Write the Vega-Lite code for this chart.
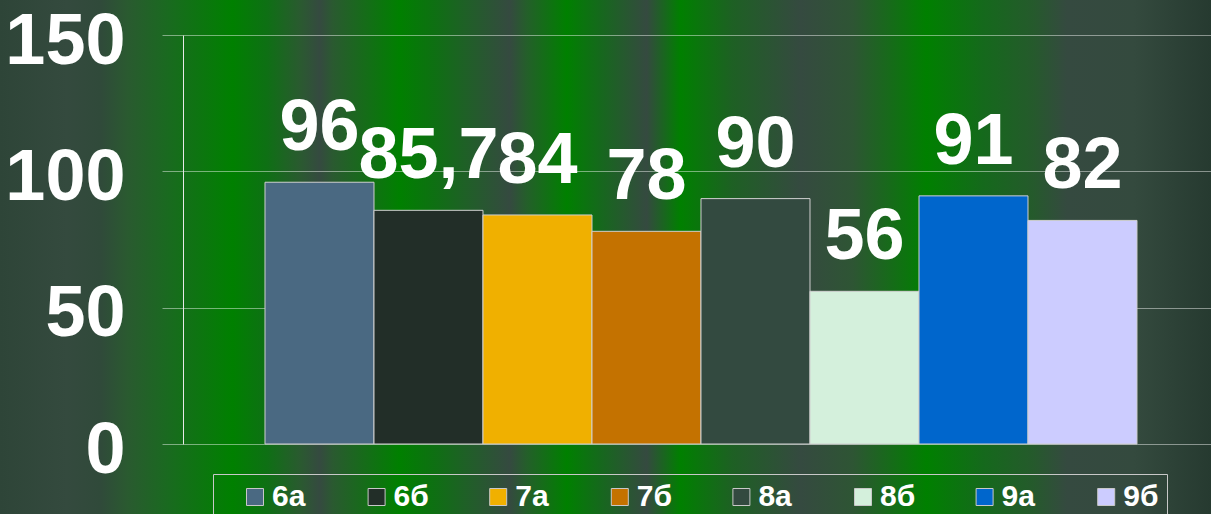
{
  "$schema": "https://vega.github.io/schema/vega-lite/v6.json",
  "width": 1211,
  "height": 514,
  "autosize": {"type": "none"},
  "padding": 0,
  "background": "#2f463a",
  "view": {
    "stroke": null,
    "fill": {
      "gradient": "linear",
      "x1": 0, "y1": 0, "x2": 1, "y2": 0,
      "stops": [
        {"offset": 0.0, "color": "#2e4538"},
        {"offset": 0.055, "color": "#344a3e"},
        {"offset": 0.083, "color": "#304a3a"},
        {"offset": 0.105, "color": "#2a5a30"},
        {"offset": 0.138, "color": "#1a6a20"},
        {"offset": 0.192, "color": "#008000"},
        {"offset": 0.22, "color": "#0e7014"},
        {"offset": 0.248, "color": "#2a5a30"},
        {"offset": 0.264, "color": "#354a40"},
        {"offset": 0.275, "color": "#2a5a30"},
        {"offset": 0.33, "color": "#008000"},
        {"offset": 0.358, "color": "#0e7012"},
        {"offset": 0.386, "color": "#205f28"},
        {"offset": 0.421, "color": "#354a40"},
        {"offset": 0.435, "color": "#245f2a"},
        {"offset": 0.468, "color": "#008000"},
        {"offset": 0.495, "color": "#15691c"},
        {"offset": 0.534, "color": "#354a40"},
        {"offset": 0.562, "color": "#008000"},
        {"offset": 0.605, "color": "#1e6024"},
        {"offset": 0.661, "color": "#354a40"},
        {"offset": 0.704, "color": "#2e5534"},
        {"offset": 0.765, "color": "#008000"},
        {"offset": 0.812, "color": "#15691c"},
        {"offset": 0.853, "color": "#255a2c"},
        {"offset": 0.881, "color": "#354a40"},
        {"offset": 0.936, "color": "#344a3e"},
        {"offset": 1.0, "color": "#263a30"}
      ]
    }
  },
  "config": {
    "locale": {"number": {"decimal": ",", "thousands": "\u00a0", "grouping": [3], "currency": ["", ""]}},
    "font": "Liberation Sans"
  },
  "data": {
    "values": [
      {"class": "6а", "value": 96},
      {"class": "6б", "value": 85.7},
      {"class": "7а", "value": 84},
      {"class": "7б", "value": 78},
      {"class": "8а", "value": 90},
      {"class": "8б", "value": 56},
      {"class": "9а", "value": 91},
      {"class": "9б", "value": 82}
    ]
  },
  "encoding": {
    "x": {
      "field": "class",
      "type": "nominal",
      "sort": null,
      "axis": null,
      "scale": {"range": [183, 1211], "paddingInner": 0, "paddingOuter": 0.7156, "align": 0.5256}
    },
    "y": {
      "field": "value",
      "type": "quantitative",
      "scale": {"domain": [0, 150], "range": [444, 35], "nice": false, "zero": true},
      "axis": {
        "values": [0, 50, 100, 150],
        "orient": "left",
        "offset": -183,
        "title": null,
        "domainColor": "#e8e8e8",
        "domainWidth": 1,
        "tickSize": 21,
        "tickColor": "#ffffff",
        "tickOpacity": 0.45,
        "tickWidth": 1,
        "grid": true,
        "gridColor": "#ffffff",
        "gridOpacity": 0.45,
        "gridWidth": 1,
        "labelFont": "Liberation Sans",
        "labelFontSize": 72,
        "labelFontWeight": "bold",
        "labelColor": "#ffffff",
        "labelPadding": 37,
        "labelOffset": 6,
        "labelBaseline": "middle",
        "labelOverlap": false,
        "labelFlush": false,
        "labelBound": false
      }
    }
  },
  "layer": [
    {
      "mark": {"type": "bar", "stroke": "#d0d0d0", "strokeWidth": 1, "opacity": 1},
      "encoding": {
        "color": {
          "field": "class",
          "type": "nominal",
          "sort": null,
          "scale": {
            "domain": ["6а", "6б", "7а", "7б", "8а", "8б", "9а", "9б"],
            "range": ["#4a6982", "#222e28", "#f0b000", "#c47200", "#334a40", "#d4f0dc", "#0066cc", "#ccccff"]
          },
          "legend": {
            "orient": "none",
            "legendX": 213,
            "legendY": 474,
            "direction": "horizontal",
            "columns": 8,
            "gridAlign": "all",
            "title": null,
            "symbolType": "square",
            "symbolSize": 289,
            "symbolStrokeColor": "#c8c8c8",
            "symbolStrokeWidth": 1,
            "symbolOpacity": 1,
            "symbolOffset": 19,
            "labelFont": "Liberation Sans",
            "labelFontSize": 30,
            "labelFontWeight": "bold",
            "labelColor": "#ffffff",
            "labelOffset": 2,
            "columnPadding": 34.6,
            "padding": 8,
            "strokeColor": "#c8c8c8"
          }
        }
      }
    },
    {
      "mark": {"type": "text", "baseline": "alphabetic", "dy": -32, "font": "Liberation Sans", "fontWeight": "bold", "fontSize": 72, "color": "#ffffff"},
      "encoding": {
        "text": {"field": "value", "type": "quantitative", "format": "~g"}
      }
    }
  ]
}
